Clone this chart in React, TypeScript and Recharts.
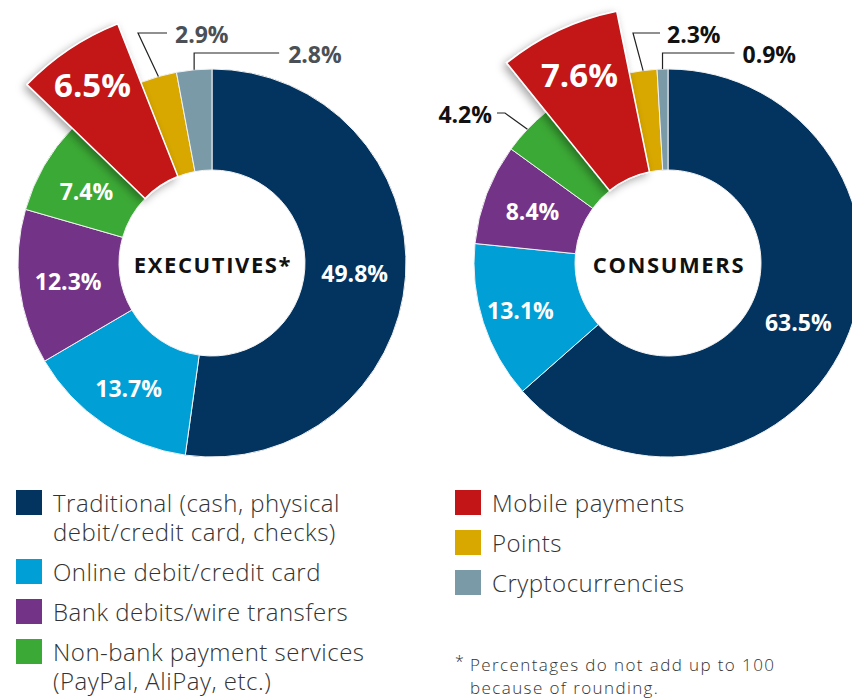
import { Cell, Pie, PieChart } from "recharts";

const categories = [
  "Traditional (cash, physical\ndebit/credit card, checks)",
  "Online debit/credit card",
  "Bank debits/wire transfers",
  "Non-bank payment services\n(PayPal, AliPay, etc.)",
  "Mobile payments",
  "Points",
  "Cryptocurrencies",
];
const executives = [49.8, 13.7, 12.3, 7.4, 6.5, 2.9, 2.8];
const consumers = [63.5, 13.1, 8.4, 4.2, 7.6, 2.3, 0.9];
const colors = ["#02345f", "#009fd6", "#733488", "#3ba935", "#c31418", "#d9a800", "#7a9aa8"];

const EXPLODED = 4; // mobile payments
const INNER_R = 93;
const BASE_R = 194;
const EXPLODED_R = 257;
const NUM_FONT = "'Open Sans', sans-serif";
const RAD = Math.PI / 180;

type LabelCfg =
  | { kind: "in"; r: number; size: number }
  | { kind: "out"; ex: number | null; ey: number; h: number; gap: number; color: string };

const execLabels: LabelCfg[] = [
  { kind: "in", r: 143, size: 23 },
  { kind: "in", r: 150, size: 23 },
  { kind: "in", r: 145, size: 23 },
  { kind: "in", r: 145, size: 23 },
  { kind: "in", r: 215, size: 33 },
  { kind: "out", ex: -74, ey: -230, h: 29, gap: 8, color: "#4b5056" },
  { kind: "out", ex: null, ey: -210, h: 85, gap: 9, color: "#4b5056" },
];
const consLabels: LabelCfg[] = [
  { kind: "in", r: 143, size: 23 },
  { kind: "in", r: 155, size: 23 },
  { kind: "in", r: 145, size: 23 },
  { kind: "out", ex: -163, ey: -150, h: -8, gap: 5, color: "#111" },
  { kind: "in", r: 208, size: 33 },
  { kind: "out", ex: -35, ey: -230, h: 27, gap: 7, color: "#111" },
  { kind: "out", ex: null, ey: -210, h: 72, gap: 8, color: "#111" },
];

function makeLabel(layout: LabelCfg[]) {
  return (props: any) => {
    const { cx, cy, midAngle, index, value } = props;
    const cfg = layout[index];
    const cos = Math.cos(-midAngle * RAD);
    const sin = Math.sin(-midAngle * RAD);
    const text = `${Number(value).toFixed(1)}%`;
    if (cfg.kind === "in") {
      return (
        <text
          x={cx + cfg.r * cos}
          y={cy + cfg.r * sin}
          fill="#fff"
          textAnchor="middle"
          dominantBaseline="central"
          fontSize={cfg.size}
          fontWeight={700}
          fontFamily={NUM_FONT}
        >
          {text}
        </text>
      );
    }
    const ax = cx + BASE_R * cos;
    const ay = cy + BASE_R * sin;
    const ex = cfg.ex === null ? ax : cx + cfg.ex;
    const ey = cy + cfg.ey;
    const hx = ex + cfg.h;
    const right = cfg.h >= 0;
    return (
      <g>
        <polyline
          points={`${ax},${ay} ${ex},${ey} ${hx},${ey}`}
          fill="none"
          stroke="#222"
          strokeWidth={1.2}
        />
        <text
          x={hx + (right ? cfg.gap : -cfg.gap)}
          y={ey + 1}
          fill={cfg.color}
          textAnchor={right ? "start" : "end"}
          dominantBaseline="central"
          fontSize={23}
          fontWeight={700}
          fontFamily={NUM_FONT}
        >
          {text}
        </text>
      </g>
    );
  };
}

function Donut({ values, cx, cy, layout }: { values: number[]; cx: number; cy: number; layout: LabelCfg[] }) {
  const data = values.map((v, i) => ({ name: categories[i], value: v }));
  return [
    <Pie
      key={`base-${cx}`}
      data={data}
      dataKey="value"
      cx={cx}
      cy={cy}
      innerRadius={INNER_R}
      outerRadius={BASE_R}
      startAngle={90}
      endAngle={-270}
      isAnimationActive={false}
      label={false}
      labelLine={false}
    >
      {data.map((_, i) => (
        <Cell key={i} fill={colors[i]} stroke="#f2f2f2" strokeWidth={1} />
      ))}
    </Pie>,
    <Pie
      key={`explode-${cx}`}
      data={data}
      dataKey="value"
      cx={cx}
      cy={cy}
      innerRadius={INNER_R}
      outerRadius={EXPLODED_R}
      startAngle={90}
      endAngle={-270}
      isAnimationActive={false}
      label={makeLabel(layout)}
      labelLine={false}
    >
      {data.map((_, i) =>
        i === EXPLODED ? (
          <Cell key={i} fill={colors[i]} stroke="#fff" strokeWidth={1.5} filter="url(#sliceShadow)" />
        ) : (
          <Cell key={i} fill="transparent" stroke="none" />
        )
      )}
    </Pie>,
  ];
}

const legendLeft = [0, 1, 2, 3];
const legendRight = [4, 5, 6];

function LegendColumn({ items, left }: { items: number[]; left: number }) {
  return (
    <div style={{ position: "absolute", left, top: 490, display: "flex", flexDirection: "column" }}>
      {items.map((i) => (
        <div key={i} style={{ display: "flex", alignItems: "flex-start", marginBottom: 13 }}>
          <div style={{ width: 26, height: 25, background: colors[i], flexShrink: 0 }} />
          <div
            style={{
              marginLeft: 11,
              marginTop: -2,
              whiteSpace: "pre-line",
              fontSize: 24,
              lineHeight: "29px",
              letterSpacing: 0.5,
              fontWeight: 300,
              color: "#333",
              fontFamily: "'Open Sans', sans-serif",
            }}
          >
            {categories[i]}
          </div>
        </div>
      ))}
    </div>
  );
}

const titleStyle = {
  position: "absolute" as const,
  top: 249,
  width: 200,
  textAlign: "center" as const,
  fontFamily: NUM_FONT,
  fontWeight: 700,
  fontSize: 22,
  letterSpacing: 1.6,
  color: "#111",
};

const noteLine = {
  position: "absolute" as const,
  left: 15,
  whiteSpace: "nowrap" as const,
  fontSize: 17,
  lineHeight: "23px",
  letterSpacing: 1.4,
};

export default function App() {
  return (
    <div style={{ position: "absolute", left: 0, top: 0, width: 852, height: 700, background: "#fff", overflow: "hidden" }}>
      <PieChart width={852} height={470} margin={{ top: 0, right: 0, bottom: 0, left: 0 }}>
        <defs>
          <filter id="sliceShadow" x="-30%" y="-30%" width="160%" height="160%">
            <feDropShadow dx={-3} dy={3} stdDeviation={4} floodColor="#000" floodOpacity={0.35} />
          </filter>
        </defs>
        {Donut({ values: executives, cx: 212, cy: 263, layout: execLabels })}
        {Donut({ values: consumers, cx: 668, cy: 263, layout: consLabels })}
      </PieChart>
      <div style={{ ...titleStyle, left: 213 - 100 }}>EXECUTIVES*</div>
      <div style={{ ...titleStyle, left: 669 - 100 }}>CONSUMERS</div>
      <LegendColumn items={legendLeft} left={16} />
      <LegendColumn items={legendRight} left={455} />
      <div
        style={{
          position: "absolute",
          left: 455,
          top: 653,
          width: 390,
          height: 47,
          fontFamily: "'Open Sans', sans-serif",
          fontWeight: 300,
          color: "#333",
        }}
      >
        <span style={{ position: "absolute", left: 0, top: -2, fontSize: 16, lineHeight: "20px" }}>*</span>
        <div style={{ ...noteLine, top: 0 }}>Percentages do not add up to 100</div>
        <div style={{ ...noteLine, top: 23 }}>because of rounding.</div>
      </div>
    </div>
  );
}
